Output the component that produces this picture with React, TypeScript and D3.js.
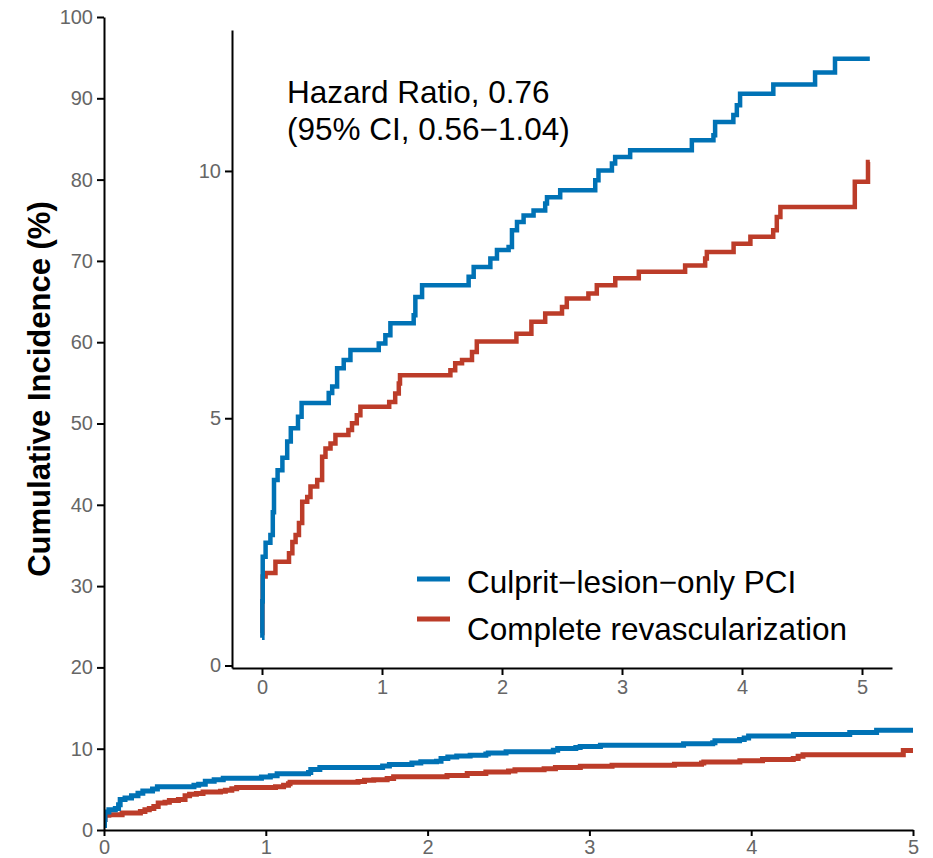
import React, { useEffect, useRef } from 'react';
import * as d3 from 'd3';

// cumulative incidence (%) after each event time (years)
const culpritTimes = [0, 0.003, 0.006, 0.03, 0.07, 0.09, 0.1, 0.13, 0.17, 0.21, 0.24, 0.3, 0.33, 0.556, 0.585, 0.626, 0.681, 0.737, 0.973, 1.028, 1.07, 1.264, 1.278, 1.334, 1.722, 1.764, 1.903, 1.958, 2.055, 2.083, 2.125, 2.18, 2.263, 2.36, 2.375, 2.485, 2.777, 2.804, 2.916, 2.943, 3.068, 3.582, 3.762, 3.776, 3.928, 3.957, 3.984, 4.261, 4.609, 4.775];
const culpritValues = [0.56, 1.3, 2.2, 2.48, 2.64, 3.1, 3.75, 3.95, 4.2, 4.53, 4.8, 5.03, 5.31, 5.51, 5.64, 6.01, 6.18, 6.38, 6.51, 6.68, 6.92, 7.08, 7.45, 7.69, 7.86, 8.06, 8.23, 8.4, 8.46, 8.8, 8.97, 9.1, 9.2, 9.34, 9.47, 9.61, 9.81, 10.01, 10.15, 10.28, 10.42, 10.62, 10.72, 10.99, 11.13, 11.33, 11.56, 11.75, 11.99, 12.27];

const completeTimes = [0, 0.003, 0.006, 0.03, 0.112, 0.225, 0.253, 0.28, 0.308, 0.335, 0.377, 0.404, 0.46, 0.501, 0.529, 0.571, 0.612, 0.72, 0.75, 0.79, 0.82, 1.06, 1.11, 1.14, 1.15, 1.57, 1.61, 1.667, 1.75, 1.79, 2.12, 2.245, 2.36, 2.5, 2.54, 2.72, 2.79, 2.944, 3.14, 3.526, 3.693, 3.707, 3.93, 4.07, 4.26, 4.29, 4.32, 4.94, 5.05];
const completeValues = [0.66, 1.3, 1.8, 1.87, 2.1, 2.27, 2.5, 2.64, 2.88, 3.31, 3.41, 3.62, 3.75, 4.22, 4.39, 4.49, 4.66, 4.76, 4.9, 5.06, 5.23, 5.33, 5.5, 5.7, 5.87, 5.97, 6.11, 6.18, 6.34, 6.55, 6.71, 6.95, 7.12, 7.25, 7.42, 7.52, 7.69, 7.83, 7.96, 8.09, 8.23, 8.36, 8.53, 8.67, 8.8, 9.07, 9.27, 9.78, 10.18];

const endTime = 5.065;

const seriesNames = ['Culprit\u2212lesion\u2212only PCI', 'Complete revascularization'];
const seriesColors = ['#0072B5', '#BC3C29'];

const mainXTicks = [0, 1, 2, 3, 4, 5];
const mainYTicks = [0, 10, 20, 30, 40, 50, 60, 70, 80, 90, 100];
const insetXTicks = [0, 1, 2, 3, 4, 5];
const insetYTicks = [0, 5, 10];

const hrLines = ['Hazard Ratio, 0.76', '(95% CI, 0.56\u22121.04)'];
const yTitle = 'Cumulative Incidence (%)';

const FONT = '"Liberation Sans", Arial, sans-serif';

export default function App() {
  const svgRef = useRef(null);

  useEffect(() => {
    const svg = d3.select(svgRef.current);
    svg.selectAll('*').remove();

    const series = [
      { name: seriesNames[0], color: seriesColors[0], pts: culpritTimes.map((t, i) => [t, culpritValues[i]]) },
      { name: seriesNames[1], color: seriesColors[1], pts: completeTimes.map((t, i) => [t, completeValues[i]]) },
    ];
    series.forEach(s => s.pts.push([endTime, s.pts[s.pts.length - 1][1]]));

    // main panel
    const x = d3.scaleLinear().domain([0, 5]).range([104, 913]);
    const y = d3.scaleLinear().domain([0, 100]).range([830, 17]);

    // inset panel
    const xi = d3.scaleLinear().domain([-0.25, 5.25]).range([232, 892]);
    const yi = d3.scaleLinear().domain([-0.05, 12.85]).range([668, 30]);

    svg.append('defs').append('clipPath').attr('id', 'mainClip')
      .append('rect')
      .attr('x', x(0)).attr('y', y(100))
      .attr('width', x(5) - x(0)).attr('height', y(0) - y(100));

    const styleAxis = (g, size) => {
      g.select('.domain').attr('stroke', '#000').attr('stroke-width', 2);
      g.selectAll('.tick line').attr('stroke', '#000').attr('stroke-width', 2);
      g.selectAll('.tick text')
        .attr('fill', '#666')
        .style('font-family', FONT)
        .style('font-size', size + 'px');
    };

    const mainLine = d3.line().x(d => x(d[0])).y(d => y(d[1])).curve(d3.curveStepAfter);
    const insetLine = d3.line().x(d => xi(d[0])).y(d => yi(d[1])).curve(d3.curveStepAfter);

    const mainCurves = svg.append('g').attr('clip-path', 'url(#mainClip)');
    const insetCurves = svg.append('g');
    series.slice().reverse().forEach(s => {
      mainCurves.append('path')
        .attr('d', mainLine(s.pts))
        .attr('fill', 'none')
        .attr('stroke', s.color)
        .attr('stroke-width', 5);
      insetCurves.append('path')
        .attr('d', insetLine(s.pts))
        .attr('fill', 'none')
        .attr('stroke', s.color)
        .attr('stroke-width', 4.5);
    });

    svg.append('g')
      .attr('transform', `translate(0, ${y(0)})`)
      .call(d3.axisBottom(x).tickValues(mainXTicks).tickSize(6).tickSizeOuter(0).tickPadding(4).tickFormat(d3.format('d')))
      .call(g => styleAxis(g, 20));

    svg.append('g')
      .attr('transform', `translate(${x(0)}, 0)`)
      .call(d3.axisLeft(y).tickValues(mainYTicks).tickSize(7).tickSizeOuter(0).tickPadding(4).tickFormat(d3.format('d')))
      .call(g => styleAxis(g, 20));

    svg.append('g')
      .attr('transform', `translate(0, ${yi.range()[0]})`)
      .call(d3.axisBottom(xi).tickValues(insetXTicks).tickSize(7).tickSizeOuter(0).tickPadding(5).tickFormat(d3.format('d')))
      .call(g => styleAxis(g, 20));

    svg.append('g')
      .attr('transform', `translate(${xi.range()[0]}, 0)`)
      .call(d3.axisLeft(yi).tickValues(insetYTicks).tickSize(7).tickSizeOuter(0).tickPadding(4).tickFormat(d3.format('d')))
      .call(g => styleAxis(g, 20));

    // y title
    svg.append('text')
      .attr('transform', 'translate(50, 389) rotate(-90)')
      .attr('text-anchor', 'middle')
      .style('font-family', FONT)
      .style('font-size', '31px')
      .style('font-weight', 'bold')
      .attr('fill', '#000')
      .text(yTitle);

    // hazard ratio annotation
    svg.append('g').selectAll('text')
      .data(hrLines)
      .join('text')
      .attr('x', 287)
      .attr('y', (d, i) => 103 + i * 37)
      .style('font-family', FONT)
      .style('font-size', '31.5px')
      .attr('fill', '#000')
      .text(d => d);

    // legend
    const legend = svg.append('g').attr('transform', 'translate(417, 579)');
    const rows = legend.selectAll('g')
      .data(series)
      .join('g');
    rows.append('line')
      .attr('x1', 0).attr('x2', 33)
      .attr('y1', (d, i) => i * 40).attr('y2', (d, i) => i * 40)
      .attr('stroke', d => d.color)
      .attr('stroke-width', 5);
    rows.append('text')
      .attr('x', 50)
      .attr('y', (d, i) => 14 + i * 47)
      .style('font-family', FONT)
      .style('font-size', '31.5px')
      .attr('fill', '#000')
      .text(d => d.name);
  }, []);

  return (
    <div className="KMChart">
      <svg ref={svgRef} width={933} height={858}
        style={{ position: 'absolute', left: 0, top: 0, background: '#fff' }} />
    </div>
  );
}
